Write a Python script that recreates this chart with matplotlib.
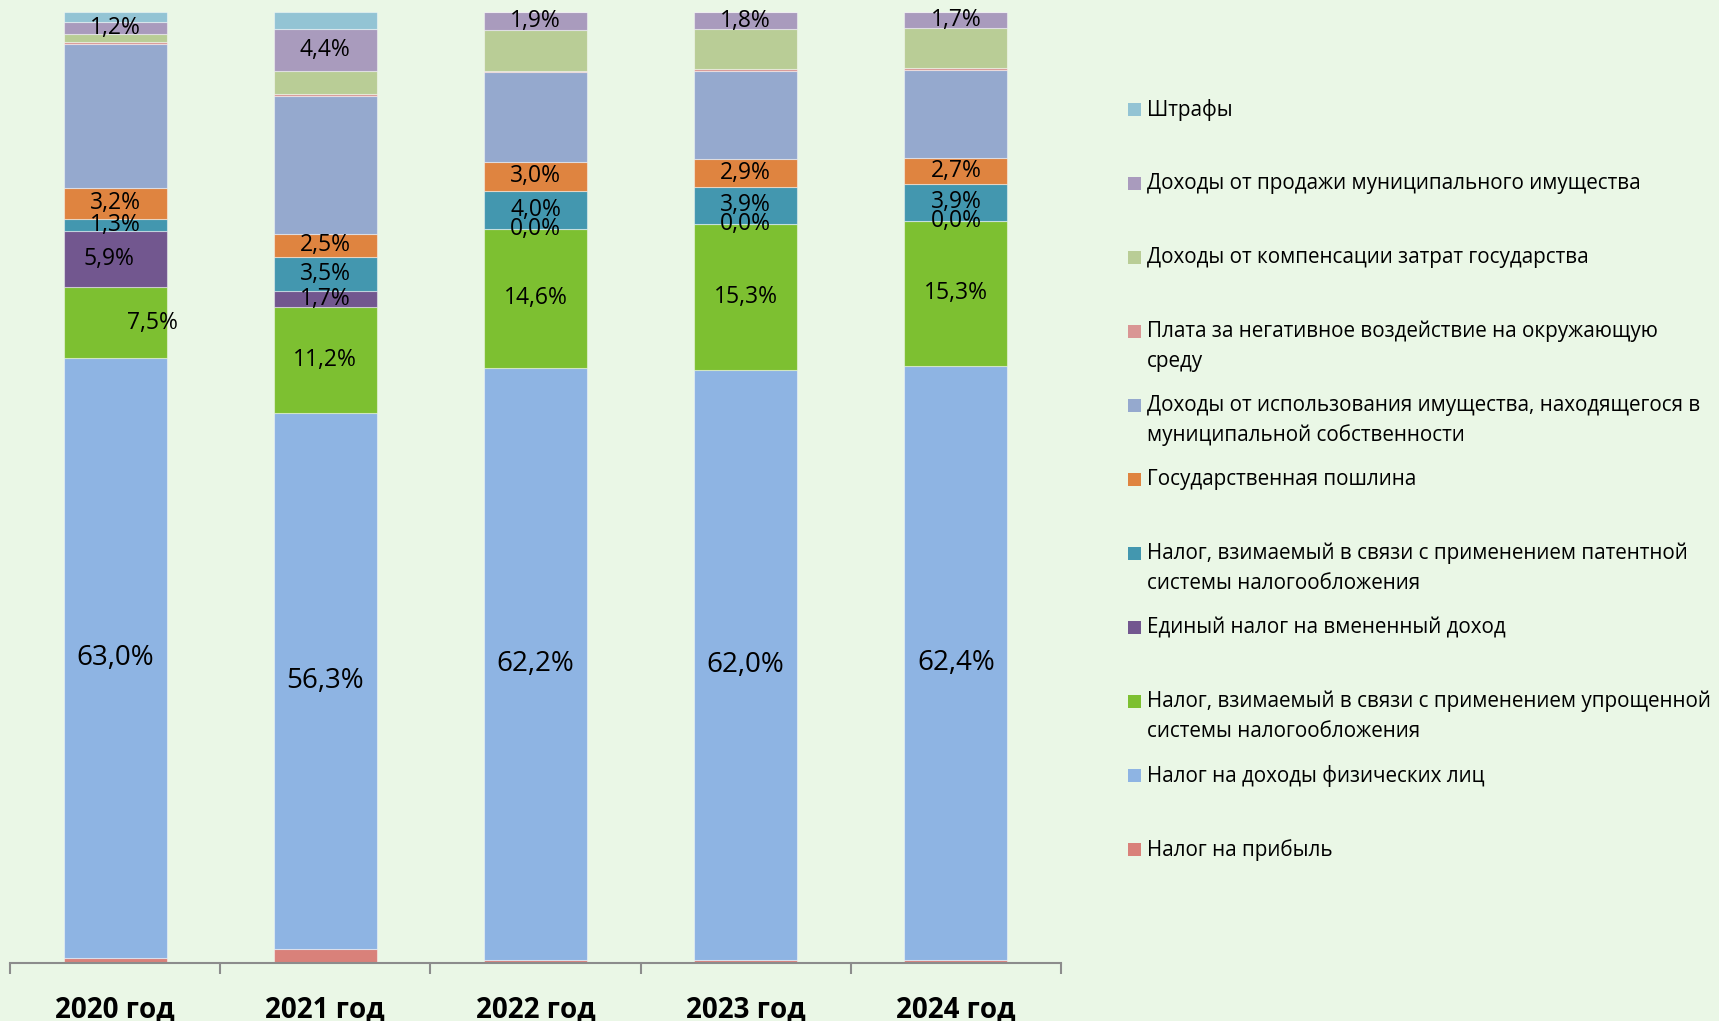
import matplotlib
matplotlib.use('Agg')
import matplotlib.pyplot as plt
from matplotlib.patches import Rectangle
import numpy as np

# ---------------- data (percent shares) ----------------
years = ['2020 год', '2021 год', '2022 год', '2023 год', '2024 год']

profit_tax   = [0.56, 1.5, 0.35, 0.35, 0.35]     # Налог на прибыль
ndfl         = [63.0, 56.3, 62.2, 62.0, 62.4]    # НДФЛ
usn          = [7.5, 11.2, 14.6, 15.3, 15.3]     # УСН
envd         = [5.9, 1.7, 0.0, 0.0, 0.0]         # ЕНВД
patent       = [1.3, 3.5, 4.0, 3.9, 3.9]         # Патент
state_duty   = [3.2, 2.5, 3.0, 2.9, 2.7]         # Госпошлина
property_use = [15.1, 14.5, 9.4, 9.3, 9.25]      # Доходы от использования имущества
negative_fee = [0.28, 0.2, 0.17, 0.17, 0.18]     # Плата за негативное воздействие
compensation = [0.85, 2.4, 4.25, 4.17, 4.17]     # Компенсация затрат
property_sale = [1.2, 4.4, 1.9, 1.8, 1.7]        # Продажа имущества
fines        = [1.05, 1.75, 0.0, 0.0, 0.0]       # Штрафы

series_names = [
    'Налог на прибыль',
    'Налог на доходы физических лиц',
    'Налог, взимаемый в связи с применением упрощенной\nсистемы налогообложения',
    'Единый налог на вмененный доход',
    'Налог, взимаемый в связи с применением патентной\nсистемы налогообложения',
    'Государственная пошлина',
    'Доходы от использования имущества, находящегося в\nмуниципальной собственности',
    'Плата за негативное воздействие на окружающую\nсреду',
    'Доходы от компенсации затрат государства',
    'Доходы от продажи муниципального имущества',
    'Штрафы',
]
series_values = [profit_tax, ndfl, usn, envd, patent, state_duty, property_use,
                 negative_fee, compensation, property_sale, fines]
colors = ['#D9817A', '#8EB4E3', '#7DC031', '#72578F', '#4397AF', '#DF8440',
          '#95A9CE', '#D99694', '#B9CD96', '#A99BBD', '#93C4D4']
show_labels = [False, True, True, True, True, True, False, False, False, True, False]

W, H = 1719, 1021
bg = '#EAF7E6'
FONT = 'Open Sans'

fig = plt.figure(figsize=(W / 100, H / 100), dpi=100)
fig.patch.set_facecolor(bg)
ax = fig.add_axes([10 / W, 1 - 963.3 / H, (1061 - 10) / W, (963.3 - 12.3) / H])
ax.set_facecolor(bg)

x = np.arange(len(years))
vals_arr = np.array(series_values, dtype=float)
totals = vals_arr.sum(axis=0)
bottom = np.zeros(len(years))
label_dx = {(2, 0): 0.18, (3, 0): -0.03}

for i, (vals, color) in enumerate(zip(vals_arr, colors)):
    h = vals / totals * 100
    ax.bar(x, h, 0.49, bottom=bottom, color=color,
           edgecolor=(1, 1, 1, 0.45), linewidth=0.8)
    if show_labels[i]:
        for j in range(len(years)):
            txt = f'{vals[j]:.1f}%'.replace('.', ',')
            ax.text(x[j] + label_dx.get((i, j), 0), bottom[j] + h[j] / 2, txt,
                    ha='center', va='center', family=FONT,
                    fontsize=20 if i == 1 else 16.5, color='black')
    bottom += h

ax.set_xlim(-0.5, 4.5)
ax.set_ylim(0, 100)
for s in ['top', 'left', 'right']:
    ax.spines[s].set_visible(False)
ax.spines['bottom'].set_color('#8C8C8C')
ax.spines['bottom'].set_linewidth(1.5)
ax.set_yticks([])
ax.set_xticks(x)
ax.set_xticklabels(years, fontsize=20, fontweight='bold', family=FONT)
ax.tick_params(axis='x', which='major', length=0, pad=23)
ax.set_xticks(np.arange(-0.5, 5, 1), minor=True)
ax.tick_params(axis='x', which='minor', length=8, width=1.5, color='#8C8C8C',
               direction='out')

# ---------------- legend (manual, Excel-like even spacing) ----------------
legend_order = list(range(len(series_names)))[::-1]
y0, dy, line_h = 109.6, 74.0, 29.6
for k, idx in enumerate(legend_order):
    yc = y0 + k * dy
    sq = 13
    fig.add_artist(Rectangle(((1128) / W, 1 - (yc + sq / 2) / H), sq / W, sq / H,
                             transform=fig.transFigure, facecolor=colors[idx],
                             edgecolor='none'))
    for ln, line in enumerate(series_names[idx].split('\n')):
        fig.text(1147 / W, 1 - (yc + ln * line_h) / H, line, ha='left',
                 va='center', family=FONT, fontsize=14.85, color='black')

fig.savefig('out.png', dpi=100, facecolor=bg)
